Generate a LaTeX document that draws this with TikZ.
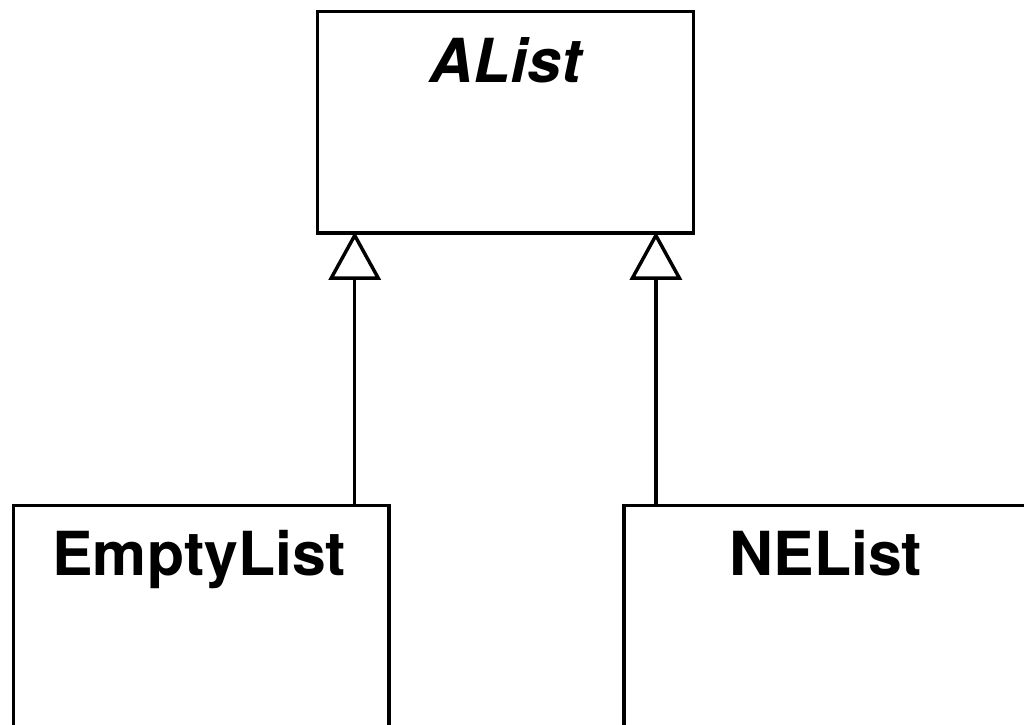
\documentclass[tikz,border=0pt]{standalone}
\usepackage{fontspec}
\setsansfont{TeX Gyre Heros}
\usetikzlibrary{arrows.meta}

\begin{document}
\begin{tikzpicture}[line width=2.45pt]
            \tikzset{box/.style 2 args={draw, rectangle, anchor=north, minimum width=#1, minimum height=#2, inner sep=0pt}};
            \tikzset{classname/.style={anchor=base, inner sep=0pt, font=\sffamily\bfseries\fontsize{43.2}{50}\selectfont}};
            \tikzset{inherits/.style={-{Triangle[open,fill=white,length=1.2cm,width=1.3cm]}, shorten >=-2pt}};
            \useasboundingbox (0,0) rectangle (25.6,-18.125);
            \clip (0,0) rectangle (25.6,-18.125);
            
            \node[box={9.4cm}{5.54cm}] (alist) at (12.64,-0.24) {};
            \node[box={9.39cm}{7cm}] (emptylist) at (5.03,-12.6) {};
            \node[box={10.1cm}{7cm}] (nelist) at (20.65,-12.6) {};
            
            \node[classname] (alistname) at (12.64,-2.05) {\itshape AList};
            \node[classname] (emptyname) at (4.98,-14.375) {EmptyList};
            \node[classname] (nename) at (20.65,-14.375) {NEList};
            
            \draw[inherits] ([xshift=-0.9cm]emptylist.north east) -- ([xshift=-0.9cm]emptylist.north east |- alist.south);
            \draw[inherits] ([xshift=0.84cm]nelist.north west) -- ([xshift=0.84cm]nelist.north west |- alist.south);
        \end{tikzpicture}
\end{document}
